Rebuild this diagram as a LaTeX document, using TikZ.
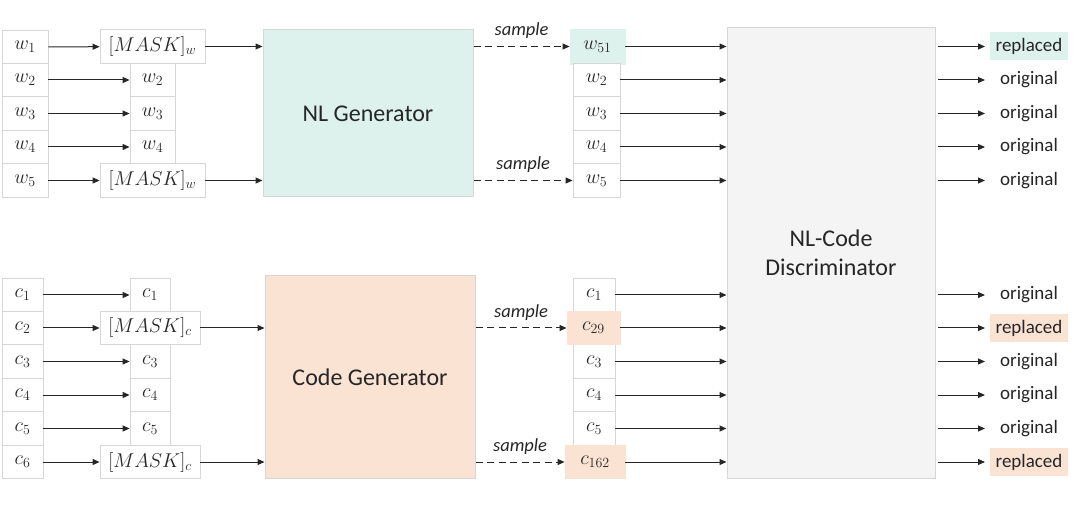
\RequirePackage{fix-cm}
\documentclass[tikz,border=0pt]{standalone}
\usepackage{fontspec}
\setmainfont{Carlito}
\usetikzlibrary{arrows.meta}
\definecolor{boxgray}{HTML}{D6D6D6}
\definecolor{nlfill}{HTML}{DDF2EC}
\definecolor{codefill}{HTML}{FBE3D3}
\definecolor{discfill}{HTML}{F4F4F4}
\definecolor{txt}{HTML}{262626}
\tikzset{
  tok/.style={draw=boxgray, fill=white, line width=0.8pt, inner sep=0pt, minimum height=33.5, font=\fontsize{20}{23}\selectfont, text=txt},
  gen/.style={draw=boxgray, line width=1pt, inner sep=0pt, font=\fontsize{24}{29}\selectfont, text=txt},
  arr/.style={-{Triangle[length=7pt,width=6pt]}, line width=1pt, black!85},
  darr/.style={arr, dashed, dash pattern=on 7pt off 4.5pt},
  outl/.style={inner xsep=6pt, inner ysep=3pt, minimum height=28, font=\fontsize{19}{22}\selectfont, text=txt},
  smp/.style={font=\fontsize{18.5}{21}\selectfont\itshape, text=txt}
}
\begin{document}
\begin{tikzpicture}[x=1pt,y=-1pt]
\useasboundingbox (0,0) rectangle (1080,505);
% ---------- NL part ----------
\foreach \i/\y in {1/47,2/80,3/113.5,4/147,5/180.5}{
  \node[tok, minimum width=46] (w\i) at (25,\y) {$w_{\i}$};
}
\node[tok, minimum width=105] (mw1) at (152.5,46.5) {$[MASK]_w$};
\node[tok, minimum width=105] (mw5) at (152.5,180.5) {$[MASK]_w$};
\foreach \i/\y in {2/80,3/113.5,4/147}{
  \node[tok, minimum width=45] (mw\i) at (152.5,\y) {$w_{\i}$};
}
\node[gen, fill=nlfill, minimum width=210, minimum height=167] (nlg) at (368,113.5) {NL Generator};

\node[tok, fill=nlfill, draw=nlfill, minimum width=55, minimum height=35] (sw1) at (597.5,46.5) {$w_{51}$};
\foreach \i/\y in {2/80,3/113.5,4/147,5/180.5}{
  \node[tok, minimum width=47] (sw\i) at (596.5,\y) {$w_{\i}$};
}

% ---------- Code part ----------
\foreach \i/\y in {1/295,2/328,3/361.5,4/395,5/428.5,6/462}{
  \node[tok, minimum width=41] (c\i) at (22.5,\y) {$c_{\i}$};
}
\foreach \i/\y in {1/295,3/361.5,4/395,5/428.5}{
  \node[tok, minimum width=40] (mc\i) at (150,\y) {$c_{\i}$};
}
\node[tok, minimum width=100] (mc2) at (150,328) {$[MASK]_c$};
\node[tok, minimum width=100] (mc6) at (150,462) {$[MASK]_c$};
\node[gen, fill=codefill, minimum width=210, minimum height=202] (cg) at (370,377) {Code Generator};

\foreach \i/\y in {1/295,3/361.5,4/395,5/428.5}{
  \node[tok, minimum width=42] (sc\i) at (594,\y) {$c_{\i}$};
}
\node[tok, fill=codefill, draw=codefill, minimum width=53] (sc2) at (593.5,328) {$c_{29}$};
\node[tok, fill=codefill, draw=codefill, minimum width=60] (sc6) at (595,462) {$c_{162}$};

% ---------- Discriminator ----------
\node[gen, fill=discfill, minimum width=208, minimum height=450, align=center] (disc) at (831,253) {NL-Code\\Discriminator};

% ---------- arrows NL ----------
\draw[arr] (w1) -- (mw1);
\draw[arr] (w5) -- (mw5);
\foreach \i in {2,3,4}{ \draw[arr] (w\i) -- (mw\i); }
\draw[arr] (mw1.east) -- (mw1.east -| nlg.west);
\draw[arr] (mw5.east) -- (mw5.east -| nlg.west);
\draw[darr] (nlg.east |- sw1) -- node[smp, above=4pt] {sample} (sw1.west);
\draw[darr] (nlg.east |- sw5) -- node[smp, above=4pt] {sample} (sw5.west);
\foreach \i in {1,...,5}{ \draw[arr] (sw\i.east) -- (sw\i.east -| disc.west); }

% ---------- arrows code ----------
\foreach \i in {1,3,4,5}{ \draw[arr] (c\i) -- (mc\i); }
\draw[arr] (c2) -- (mc2);
\draw[arr] (c6) -- (mc6);
\draw[arr] (mc2.east) -- (mc2.east -| cg.west);
\draw[arr] (mc6.east) -- (mc6.east -| cg.west);
\draw[darr] (cg.east |- sc2) -- node[smp, above=4pt] {sample} (sc2.west);
\draw[darr] (cg.east |- sc6) -- node[smp, above=4pt] {sample} (sc6.west);
\foreach \i in {1,...,6}{ \draw[arr] (sc\i.east) -- (sc\i.east -| disc.west); }

% ---------- outputs ----------
\foreach \n/\y/\t/\f in {o1/46.5/replaced/nlfill, o2/80/original/white, o3/113.5/original/white, o4/147/original/white, o5/180.5/original/white,
  o6/295/original/white, o7/328/replaced/codefill, o8/361.5/original/white, o9/395/original/white, o10/428.5/original/white, o11/462/replaced/codefill}{
  \node[outl, fill=\f] (\n) at (1029,\y) {\t};
  \coordinate (s\n) at (disc.east |- \n);
  \draw[arr] ([xshift=2pt]s\n) -- (985,\y);
}
\end{tikzpicture}
\end{document}
